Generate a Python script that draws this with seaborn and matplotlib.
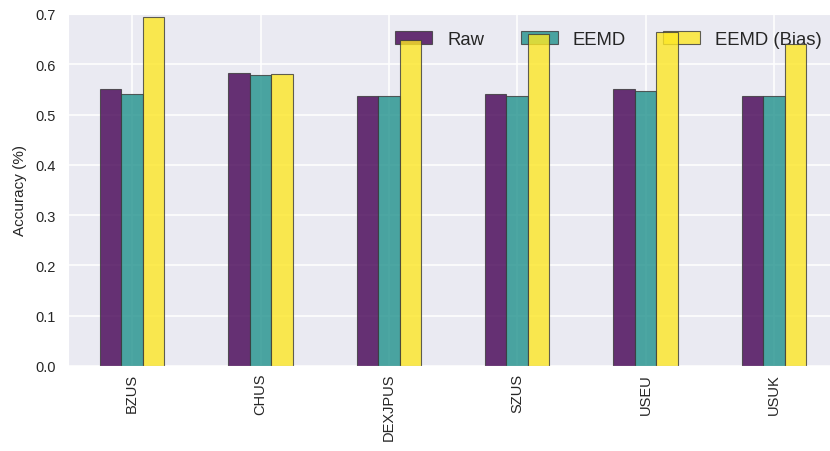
import matplotlib
matplotlib.use("Agg")
import matplotlib.pyplot as plt
import seaborn as sns
import pandas as pd

# Directional accuracy per currency pair for each feature set
pairs = ["BZUS", "CHUS", "DEXJPUS", "SZUS", "USEU", "USUK"]
raw = [0.551, 0.582, 0.536, 0.540, 0.551, 0.536]
eemd = [0.541, 0.579, 0.536, 0.536, 0.547, 0.536]
eemd_bias = [0.694, 0.581, 0.648, 0.661, 0.665, 0.640]

series_names = ["Raw", "EEMD", "EEMD (Bias)"]
series_values = [raw, eemd, eemd_bias]

df = pd.DataFrame(
    [(p, name, v) for name, vals in zip(series_names, series_values)
     for p, v in zip(pairs, vals)],
    columns=["pair", "method", "accuracy"],
)

sns.set_style("darkgrid")
plt.rcParams["font.family"] = ["Liberation Sans", "DejaVu Sans"]

palette = ["#440154", "#21918c", "#fde725"]

fig = plt.figure(figsize=(8.3, 4.52), dpi=100)
ax = fig.add_axes([68 / 830, (452 - 367) / 452, (838 - 68) / 830, (367 - 15) / 452])

sns.barplot(
    data=df, x="pair", y="accuracy", hue="method",
    order=pairs, hue_order=series_names, palette=palette, saturation=1,
    width=0.5, errorbar=None, alpha=0.8,
    edgecolor="#3a3a3a", linewidth=0.8, ax=ax, legend=False,
)

ax.set_xlim(-0.5, len(pairs) - 0.5)
ax.set_ylim(0, 0.7)
ax.set_yticks([0.0, 0.1, 0.2, 0.3, 0.4, 0.5, 0.6, 0.7])
ax.set_yticklabels([f"{t:.1f}" for t in ax.get_yticks()], fontsize=10.5)
ax.set_xticks(range(len(pairs)))
ax.set_xticklabels(pairs, rotation=90, fontsize=10.5)
ax.grid(True, axis="both", color="white", linewidth=1.1)
ax.set_axisbelow(True)
ax.set_xlabel("")
ax.set_ylabel("Accuracy (%)", fontsize=11, labelpad=6)
ax.tick_params(axis="y", length=0, pad=9, colors="#262626")
ax.tick_params(axis="x", length=0, pad=5, colors="#262626")

leg = ax.legend(ax.containers, series_names, loc="upper right", ncol=3,
                frameon=False, fontsize=13.3)
# keep the legend beneath the bars, above the grid
leg.set_zorder(0.9)

fig.savefig("out.png", dpi=100)
